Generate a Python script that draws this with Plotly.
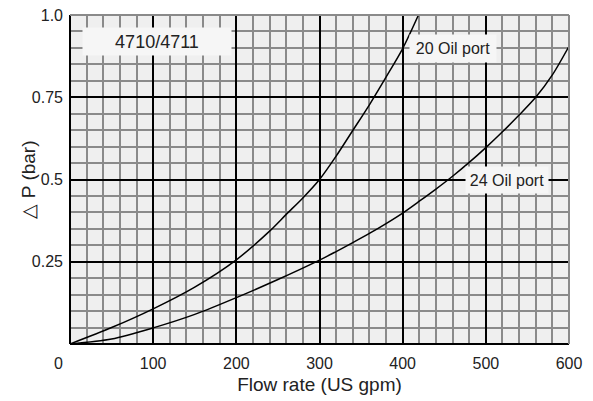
import plotly.graph_objects as go

# Flow rate (US gpm) and pressure drop (bar)
flow_20 = [0, 50, 100, 150, 200, 240, 260, 280, 300, 320, 340, 360, 380, 400, 419]
dp_20 = [0, 0.05, 0.107, 0.173, 0.256, 0.343, 0.394, 0.444, 0.5, 0.571, 0.649, 0.727, 0.811, 0.898, 1.0]

flow_24 = [0, 50, 100, 150, 200, 250, 300, 320, 340, 360, 380, 400, 420, 440, 460, 480, 500, 520, 540, 560, 580, 600]
dp_24 = [0, 0.015, 0.049, 0.09, 0.141, 0.196, 0.255, 0.281, 0.308, 0.336, 0.366, 0.398, 0.434, 0.471, 0.51,
         0.552, 0.597, 0.645, 0.696, 0.75, 0.818, 0.905]

x_ticks = [100, 200, 300, 400, 500, 600]
x_ticktext = ["100", "200", "300", "400", "500", "600"]
y_ticks = [0.25, 0.5, 0.75, 1.0]
y_ticktext = ["0.25", "0.5", "0.75", "1.0"]

FONT = "Liberation Sans, Arial, Helvetica, sans-serif"
fig = go.Figure()
fig.add_trace(go.Scatter(x=flow_20, y=dp_20, mode="lines",
                         line=dict(color="black", width=1.5, shape="spline", smoothing=0.8),
                         showlegend=False, hoverinfo="skip"))
fig.add_trace(go.Scatter(x=flow_24, y=dp_24, mode="lines",
                         line=dict(color="black", width=1.5, shape="spline", smoothing=0.8),
                         showlegend=False, hoverinfo="skip"))

fig.update_layout(
    width=585, height=393,
    margin=dict(l=62, r=24, t=7, b=57),
    paper_bgcolor="white", plot_bgcolor="#efefef",
    font=dict(family=FONT, color="#222", size=16),
    xaxis=dict(range=[0, 600], tickvals=x_ticks, ticktext=x_ticktext, showgrid=True, automargin=False,
               gridcolor="black", gridwidth=2, zeroline=True, zerolinecolor="black", zerolinewidth=2,
               minor=dict(tick0=0, dtick=20, showgrid=True, gridcolor="#8a8a8a", gridwidth=2),
               ticks="", ticklabelstandoff=8, tickfont=dict(size=16), ticklabeloverflow="allow",
               title=dict(text="Flow rate (US gpm)", font=dict(size=19), standoff=6), fixedrange=True),
    yaxis=dict(range=[0, 1.0], tickvals=y_ticks, ticktext=y_ticktext, showgrid=True, automargin=False,
               gridcolor="black", gridwidth=2, zeroline=True, zerolinecolor="black", zerolinewidth=2,
               minor=dict(tick0=0, dtick=0.05, showgrid=True, gridcolor="#8a8a8a", gridwidth=2),
               ticks="", ticklabelstandoff=6, tickfont=dict(size=16), ticklabeloverflow="allow",
               fixedrange=True),
    shapes=[
        dict(type="line", xref="paper", yref="paper", x0=0, x1=1, y0=1, y1=1, line=dict(color="#8a8a8a", width=2)),
        dict(type="line", xref="paper", yref="paper", x0=1, x1=1, y0=0, y1=1, line=dict(color="#8a8a8a", width=2)),
    ],
    annotations=[
        dict(x=0, y=0.5, xref="paper", yref="paper", text="△ P (bar)", textangle=-90, showarrow=False,
             xanchor="center", yanchor="middle", xshift=-42, font=dict(size=19, color="#222")),
        dict(x=0, y=0, xref="x", yref="paper", text="0", showarrow=False, xanchor="center", yanchor="middle",
             xshift=-12, yshift=-19, font=dict(size=16, color="#222")),
        dict(x=105, y=0.918, xref="x", yref="y", text="4710/4711", showarrow=False, bgcolor="#f6f6f6",
             width=146, height=25, font=dict(size=18, color="#222")),
        dict(x=461, y=0.898, xref="x", yref="y", text="20 Oil port", showarrow=False, bgcolor="#f6f6f6",
             width=84, height=25, font=dict(size=16, color="#222")),
        dict(x=526, y=0.5, xref="x", yref="y", text="24 Oil port", showarrow=False, bgcolor="#f6f6f6",
             width=80, height=24, font=dict(size=16, color="#222")),
    ],
)

fig.write_html("out.html")
